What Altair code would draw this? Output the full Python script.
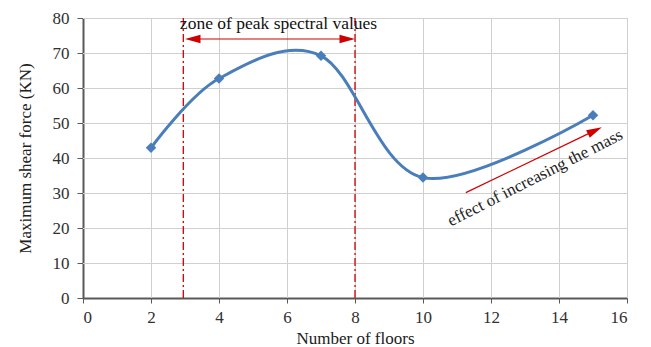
import altair as alt
import pandas as pd

# Data
floors = [2, 4, 7, 10, 15]
shear = [42.9, 62.7, 69.2, 34.4, 52.2]

# Tick values
x_ticks = [0, 2, 4, 6, 8, 10, 12, 14, 16]
y_ticks = [0, 10, 20, 30, 40, 50, 60, 70, 80]

# Annotation values
zone_lines_x = [2.95, 8]
zone_arrow_x = [3.0, 8.0]
zone_arrow_y = 74
zone_label = "zone of peak spectral values"
zone_label_pos = (5.75, 78.3)
mass_arrow_x = [11.26, 15.26]
mass_arrow_y = [30.1, 48.8]
mass_label = "effect of increasing the mass"
mass_label_pos = (13.3, 34.3)

FONT = "Liberation Serif"
RED = "#d00000"
BLUE = "#4a7ebb"
GRID = "#d0d0d0"

df = pd.DataFrame({"floors": floors, "shear": shear})

xscale = alt.Scale(domain=[0, 16], nice=False)
yscale = alt.Scale(domain=[0, 80], nice=False)

xaxis = alt.Axis(
    values=x_ticks, grid=False, tickSize=5, labelPadding=6,
    title="Number of floors", titlePadding=5, labelOverlap=False,
)
yaxis = alt.Axis(
    values=y_ticks, grid=False, tickSize=6, labelPadding=8,
    title="Maximum shear force (KN)", titlePadding=18, labelOverlap=False,
)

X = lambda f: alt.X(f, scale=xscale, axis=xaxis)
Y = lambda f: alt.Y(f, scale=yscale, axis=yaxis)

xgrid = alt.Chart(pd.DataFrame({"x": x_ticks[1:]})).mark_rule(
    color=GRID, strokeWidth=1, xOffset=0.5
).encode(x=X("x:Q"))
ygrid = alt.Chart(pd.DataFrame({"y": y_ticks[1:]})).mark_rule(
    color=GRID, strokeWidth=1, yOffset=0.5
).encode(y=Y("y:Q"))

base = alt.Chart(df)

line = base.mark_line(interpolate="cardinal", color=BLUE, strokeWidth=3).encode(
    x=X("floors:Q"), y=Y("shear:Q"),
)
pts = base.mark_point(shape="diamond", filled=True, size=110, color=BLUE, opacity=1).encode(
    x=X("floors:Q"), y=Y("shear:Q"),
)

vlines = alt.Chart(pd.DataFrame({"x": zone_lines_x})).mark_rule(
    color=RED, strokeWidth=1.3, strokeDash=[8, 3, 2, 3]
).encode(x=X("x:Q"))

harrow = alt.Chart(pd.DataFrame({"x": [zone_arrow_x[0] + 0.3], "x2": [zone_arrow_x[1] - 0.3], "y": [zone_arrow_y]})).mark_rule(
    color=RED, strokeWidth=1.2
).encode(x=X("x:Q"), x2="x2:Q", y=Y("y:Q"))

darrow = alt.Chart(pd.DataFrame({"x": [mass_arrow_x[0]], "x2": [mass_arrow_x[1] - 0.3],
                                 "y": [mass_arrow_y[0]], "y2": [mass_arrow_y[1] - 1.4]})).mark_rule(
    color=RED, strokeWidth=1.2
).encode(x=X("x:Q"), x2="x2:Q", y=Y("y:Q"), y2="y2:Q")

heads = pd.DataFrame({
    "x": [zone_arrow_x[0], zone_arrow_x[1], mass_arrow_x[1]],
    "y": [zone_arrow_y, zone_arrow_y, mass_arrow_y[1]],
    "ang": [180, 0, 334],
})
arrowheads = alt.Chart(heads).mark_point(
    shape="M0,0L-2,-0.55L-2,0.55Z", filled=True, color=RED, opacity=1, size=240
).encode(
    x=X("x:Q"), y=Y("y:Q"),
    angle=alt.Angle("ang:Q", scale=None),
)

zone_text = alt.Chart(pd.DataFrame({"x": [zone_label_pos[0]], "y": [zone_label_pos[1]], "t": [zone_label]})).mark_text(
    font=FONT, fontSize=17.5, color="#111111", align="center", baseline="middle"
).encode(x=X("x:Q"), y=Y("y:Q"), text="t:N")

mass_text = alt.Chart(pd.DataFrame({"x": [mass_label_pos[0]], "y": [mass_label_pos[1]], "t": [mass_label]})).mark_text(
    font=FONT, fontSize=17, color="#222222", align="center", baseline="middle", angle=333
).encode(x=X("x:Q"), y=Y("y:Q"), text="t:N")

chart = alt.layer(
    xgrid, ygrid, vlines, harrow, darrow, arrowheads, line, pts, zone_text, mass_text
).properties(
    width=544, height=280,
    autosize=alt.AutoSizeParams(type="none"),
    padding={"left": 83, "top": 18, "right": 24, "bottom": 49},
    background="white",
).configure_view(stroke=GRID).configure_axis(
    domainColor="#595959", domainWidth=2, tickColor="#595959",
    labelFont=FONT, labelFontSize=17, labelColor="#303030",
    titleFont=FONT, titleFontSize=17, titleFontWeight="normal", titleColor="#202020",
)

chart.save("out.html", embed_options={"renderer": "svg", "actions": False})
